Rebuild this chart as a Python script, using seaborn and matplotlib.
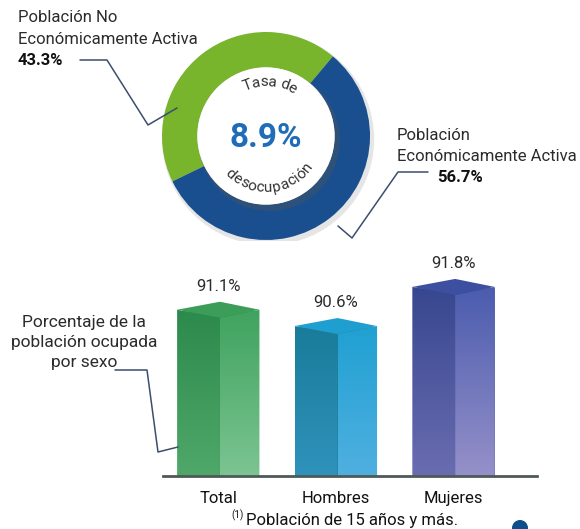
import numpy as np
import matplotlib
matplotlib.use('Agg')
import matplotlib.pyplot as plt
from matplotlib.patches import Circle, Polygon
from matplotlib.colors import LinearSegmentedColormap
from matplotlib.font_manager import FontProperties
from matplotlib.textpath import TextToPath
import seaborn as sns

# --- donut data: condicion de actividad ---
pea_labels = ['Población No\nEconómicamente Activa', 'Población\nEconómicamente Activa']
pea_values = [43.3, 56.7]
pea_colors = ['#78b42c', '#1a4f8f']
tasa_desocupacion = 8.9

# --- bar data: poblacion ocupada por sexo ---
categorias = ['Total', 'Hombres', 'Mujeres']
ocupada = [91.1, 90.6, 91.8]
# (front-bottom, front-top, side-bottom, side-top, top face)
bar_shades = [
    ('#4fa86a', '#2c8a4c', '#7cc492', '#3fa35e', '#3b9d57'),
    ('#2f92bb', '#1a7c9a', '#4fb0e0', '#20a0d2', '#1f9ed0'),
    ('#6a6cb0', '#37478f', '#9590c9', '#4b5cae', '#3d4fa0'),
]

sns.set_theme(style='white')
plt.rcParams['font.family'] = ['Roboto', 'DejaVu Sans']
TXT = '#2b2b2b'

W, H = 580, 529
fig = plt.figure(figsize=(W / 100, H / 100), dpi=100)

# ---------------- donut ----------------
cx, cy, R = 266, 136, 104
axd = fig.add_axes([(cx - 1.1 * R) / W, (H - cy - 1.1 * R) / H, 2.2 * R / W, 2.2 * R / H])
axd.add_patch(Circle((0.02, -0.03), 1.02, color='#9a9a9a', alpha=0.25, zorder=0, lw=0))
axd.pie(pea_values, colors=pea_colors, startangle=50, counterclock=True,
        radius=1.0, wedgeprops=dict(width=0.34, linewidth=0))
axd.add_patch(Circle((0.03, -0.04), 0.68, color='#555555', alpha=0.35, zorder=3, lw=0))
axd.add_patch(Circle((0, 0), 0.66, color='white', zorder=4, lw=0))
axd.text(0, -0.02, f'{tasa_desocupacion}%', ha='center', va='center', fontsize=24,
         fontweight='bold', color='#1f6cb8', zorder=6)
axd.set_xlim(-1.1, 1.1)
axd.set_ylim(-1.1, 1.1)
axd.set_aspect('equal')
axd.axis('off')


def arc_text(ax, text, r, theta_c, top=True, size=11, track=0.0):
    fp = FontProperties(family='Roboto', size=size)
    t2p = TextToPath()
    widths = []
    for ch in text:
        w = t2p.get_text_width_height_descent(ch if ch != ' ' else 'n', fp, ismath=False)[0]
        if ch == ' ':
            w *= 0.5
        widths.append((w * 100 / 72 + track) / R)
    total = sum(widths) / r
    ang = np.deg2rad(theta_c) + (total / 2 if top else -total / 2)
    for ch, w in zip(text, widths):
        step = w / r
        a = ang - step / 2 if top else ang + step / 2
        rot = np.rad2deg(a) - 90 if top else np.rad2deg(a) + 90
        ax.text(r * np.cos(a), r * np.sin(a), ch, rotation=rot, ha='center', va='center',
                fontsize=size, color='#333333', zorder=6, rotation_mode='anchor')
        ang = ang - step if top else ang + step


arc_text(axd, 'Tasa de', 0.52, 86, top=True)
arc_text(axd, 'desocupación', 0.50, 275, top=False)

# ---------------- bars ----------------
y0, y1 = 86.0, 93.2
ax_bottom = 476
ax_h = (y1 - y0) * 32.6
axb = fig.add_axes([163 / W, (H - ax_bottom) / H, 374 / W, ax_h / H])
sns.barplot(x=categorias, y=ocupada, hue=categorias, palette=[s[1] for s in bar_shades],
            width=0.7, legend=False, ax=axb, saturation=1)
bars = list(axb.patches)
d = 8 / 32.6
grad = np.linspace(0, 1, 100).reshape(-1, 1)
for patch, shade in zip(bars, bar_shades):
    x0, w, top = patch.get_x(), patch.get_width(), patch.get_height()
    xm = x0 + 0.52 * w
    faces = [
        ([(x0, y0), (x0, top), (xm, top - d), (xm, y0)], x0, xm, shade[0], shade[1]),
        ([(xm, y0), (xm, top - d), (x0 + w, top), (x0 + w, y0)], xm, x0 + w, shade[2], shade[3]),
    ]
    for pts, xa, xb, cb, ct in faces:
        clip = Polygon(pts, closed=True, transform=axb.transData)
        cmap = LinearSegmentedColormap.from_list('face', [cb, ct])
        img = axb.imshow(grad, extent=(xa, xb, y0, top), origin='lower', aspect='auto',
                         cmap=cmap, zorder=2, interpolation='bilinear')
        img.set_clip_path(clip)
    axb.add_patch(Polygon([(x0, top), (xm, top + d), (x0 + w, top), (xm, top - d)],
                          closed=True, facecolor=shade[4], edgecolor='none', zorder=3))
    axb.annotate(f'{top:.1f}%', (x0 + w / 2, top), xytext=(0, 17), textcoords='offset points',
                 ha='center', va='center', fontsize=12, color=TXT, annotation_clip=False)

axb.set_xlim(-0.47, 2.71)
axb.set_ylim(y0, y1)
axb.set_yticks([])
axb.set_xlabel('')
axb.set_ylabel('')
for side in ['top', 'right', 'left']:
    axb.spines[side].set_visible(False)
axb.spines['bottom'].set_color('#4d5a57')
axb.spines['bottom'].set_linewidth(2)
axb.tick_params(axis='x', length=0, pad=11, labelsize=12, labelcolor='#111111')

# ---------------- overlay: labels & leader lines ----------------
ov = fig.add_axes([0, 0, 1, 1], zorder=10)
ov.set_xlim(0, W)
ov.set_ylim(H, 0)
ov.axis('off')
ov.patch.set_alpha(0)

lc = '#3c4d6e'
ov.plot([80, 107, 148, 177], [60, 60, 125, 108], color=lc, lw=1.1)
ov.plot([428, 398, 352, 338], [172, 172, 238, 226], color=lc, lw=1.1)
ov.plot([115, 147, 158, 178], [370, 370, 452, 447], color=lc, lw=1.1)

l1 = pea_labels[0].split('\n')
ov.text(18, 22, l1[0], fontsize=12, color=TXT, va='baseline')
ov.text(18, 44, l1[1], fontsize=12, color=TXT, va='baseline')
ov.text(18, 65, f'{pea_values[0]}%', fontsize=12, color='#111111', fontweight='bold', va='baseline')

l2 = pea_labels[1].split('\n')
ov.text(397, 140, l2[0], fontsize=12, color=TXT, va='baseline')
ov.text(397, 161, l2[1], fontsize=12, color=TXT, va='baseline')
ov.text(437, 182, f'{pea_values[1]}%', fontsize=12, color='#111111', fontweight='bold', va='baseline')

for txt, yb in zip(['Porcentaje de la', 'población ocupada', 'por sexo'], [327, 347, 367]):
    ov.text(84, yb, txt, fontsize=12.5, color=TXT, ha='center', va='baseline')

ov.text(231, 518, '(1)', fontsize=7, color='#111111', va='baseline')
ov.text(246, 525, 'Población de 15 años y más.', fontsize=12, color='#111111', va='baseline')
ov.add_patch(Circle((520, 528), 8, color='#0e4f8c', lw=0))

fig.savefig('out.png', dpi=100)
